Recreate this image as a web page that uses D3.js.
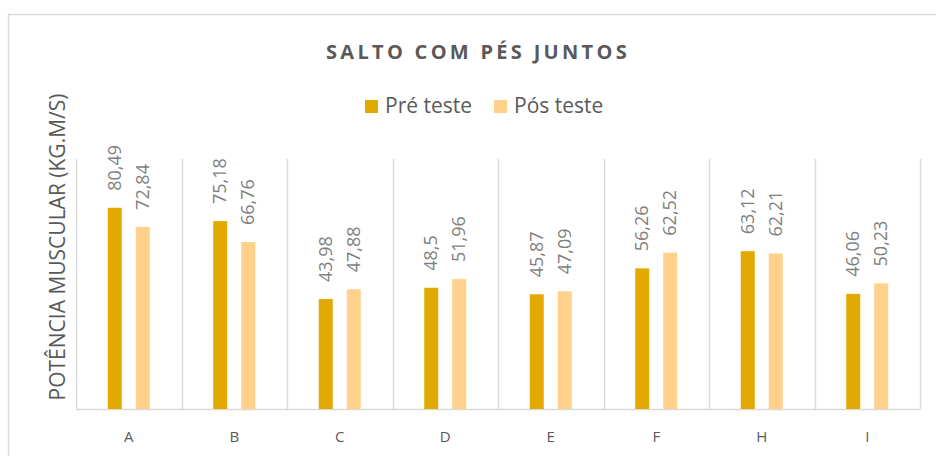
<!DOCTYPE html>
<html><head><meta charset="utf-8">
<script src="https://cdn.jsdelivr.net/npm/d3@7"></script>
<style>body{margin:0;background:#fff}svg{display:block}</style>
</head><body><svg id="c" width="936" height="456"></svg>
<script>
const categories = ["A","B","C","D","E","F","H","I"];
const preTeste = [80.49, 75.18, 43.98, 48.5, 45.87, 56.26, 63.12, 46.06];
const posTeste = [72.84, 66.76, 47.88, 51.96, 47.09, 62.52, 62.21, 50.23];
const seriesNames = ["Pré teste", "Pós teste"];
const colors = ["#E2AA00", "#FFD18A"];
const yDomain = [0, 100];

const svg = d3.select("#c");
const W = 936, H = 456;
const m = {left: 76, right: 16, top: 159, bottom: 47};
const x = d3.scaleBand().domain(categories).range([m.left, W - m.right]).padding(0);
const y = d3.scaleLinear().domain(yDomain).range([H - m.bottom, m.top]);
const bw = 14;

// outer border
svg.append("rect").attr("x", 8.5).attr("y", 14.5).attr("width", 960).attr("height", 480)
  .attr("fill", "none").attr("stroke", "#d9d9d9").attr("stroke-width", 1.5);

// vertical gridlines
const bounds = categories.map(c => x(c)).concat([x.range()[1]]);
svg.append("g").selectAll("line").data(bounds).join("line")
  .attr("x1", d => Math.round(d) + 0.5).attr("x2", d => Math.round(d) + 0.5)
  .attr("y1", m.top).attr("y2", y(0))
  .attr("stroke", "#d9d9d9").attr("stroke-width", 1.5);

// baseline axis
const xAxis = d3.axisBottom(x).tickSize(0).tickPadding(22);
const gx = svg.append("g").attr("transform", `translate(0,${y(0)})`).call(xAxis);
gx.select(".domain").attr("stroke", "#d9d9d9").attr("stroke-width", 1.5);
gx.selectAll("text").attr("fill", "#595959").style("font-family", "'Open Sans'").style("font-size", "15px");

const series = [preTeste, posTeste];
const centers = [-14, 14];
series.forEach((vals, si) => {
  const g = svg.append("g");
  g.selectAll("rect").data(vals).join("rect")
    .attr("x", (d, i) => x(categories[i]) + x.bandwidth() / 2 + centers[si] - bw / 2)
    .attr("y", d => y(d))
    .attr("width", bw)
    .attr("height", d => y(0) - y(d))
    .attr("fill", colors[si]);
  g.selectAll("text").data(vals).join("text")
    .attr("transform", (d, i) => `translate(${x(categories[i]) + x.bandwidth() / 2 + centers[si] + 6},${y(d) - 17}) rotate(-90)`)
    .attr("fill", "#7f7f7f")
    .style("font-family", "'Open Sans'").style("font-size", "18px")
    .text(d => String(d).replace(".", ","));
});

// title
svg.append("text").attr("x", 478).attr("y", 59).attr("text-anchor", "middle")
  .attr("fill", "#595959").style("font-family", "'Open Sans'").style("font-weight", "bold")
  .style("font-size", "20px").style("letter-spacing", "3.3px")
  .text("SALTO COM PÉS JUNTOS");

// legend
const legX = [365, 494];
seriesNames.forEach((n, i) => {
  svg.append("rect").attr("x", legX[i]).attr("y", 100).attr("width", 13).attr("height", 13).attr("fill", colors[i]);
  svg.append("text").attr("x", legX[i] + 20).attr("y", 113).attr("fill", "#595959")
    .style("font-family", "'Open Sans'").style("font-size", "21px").text(n);
});

// y axis title
svg.append("text").attr("transform", `translate(65,247) rotate(-90)`).attr("text-anchor", "middle")
  .attr("fill", "#595959").style("font-family", "'Open Sans'").style("font-size", "21px")
  .text("POTÊNCIA MUSCULAR (KG.M/S)");
</script></body></html>
